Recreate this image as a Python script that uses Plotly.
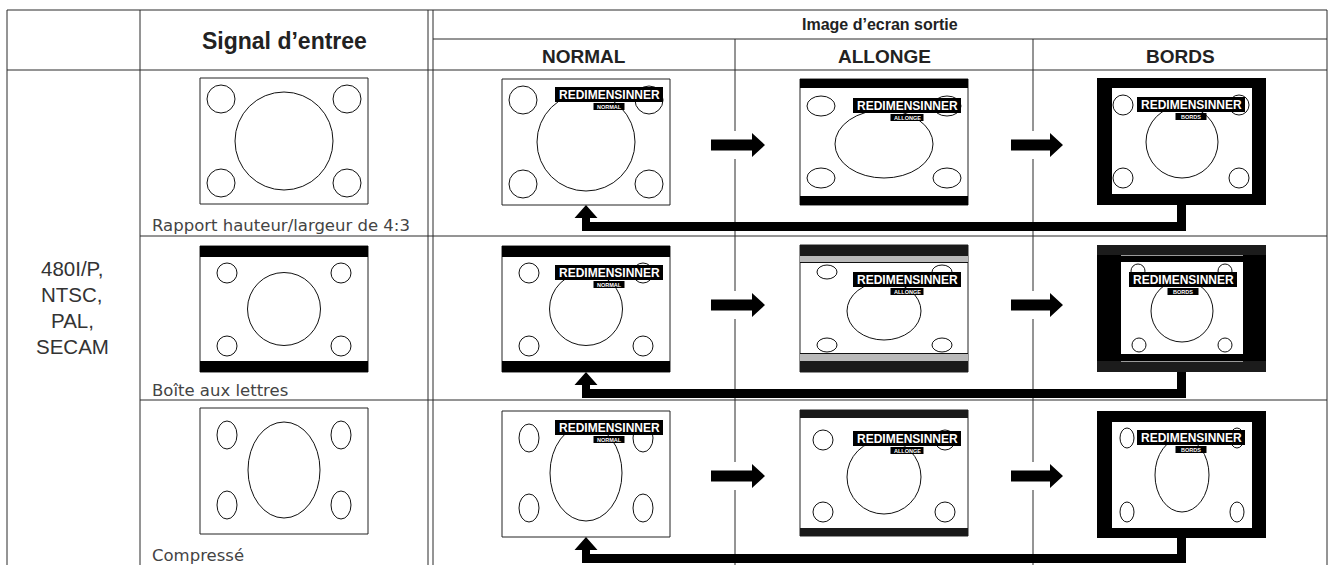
import plotly.graph_objects as go

# ---------------- text content ----------------
input_lines = ["480I/P,", "NTSC,", "PAL,", "SECAM"]
header_input = "Signal d’entree"
header_output = "Image d’ecran sortie"
modes = ["NORMAL", "ALLONGE", "BORDS"]
row_captions = ["Rapport hauteur/largeur de 4:3", "Boîte aux lettres", "Compressé"]
osd_title = "REDIMENSINNER"

W, H = 1334, 565
LINE = "#2a2a2a"
shapes, annots = [], []


def line(x0, y0, x1, y1, color=LINE, w=1):
    shapes.append(dict(type="line", x0=x0, y0=y0, x1=x1, y1=y1,
                       line=dict(color=color, width=w)))


def rect(x0, y0, x1, y1, fill, lc=None, lw=0):
    shapes.append(dict(type="rect", x0=x0, y0=y0, x1=x1, y1=y1, fillcolor=fill,
                       line=dict(color=lc or fill, width=lw)))


def ell(cx, cy, rx, ry):
    shapes.append(dict(type="circle", x0=cx - rx, y0=cy - ry, x1=cx + rx, y1=cy + ry,
                       line=dict(color="#111", width=1), fillcolor="rgba(0,0,0,0)"))


def poly(pts, fill="#000"):
    path = "M " + " L ".join(f"{x},{y}" for x, y in pts) + " Z"
    shapes.append(dict(type="path", path=path, fillcolor=fill, line=dict(width=0)))


def text(x, y, s, size, color="#222", bold=False, family="Liberation Sans, Arial",
         xanchor="center"):
    annots.append(dict(x=x, y=y, xref="x", yref="y", text=(f"<b>{s}</b>" if bold else s),
                       showarrow=False, xanchor=xanchor, yanchor="middle",
                       font=dict(size=size, color=color, family=family)))


# ---------------- table grid ----------------
L, R, TOP = 7, 1327, 10
line(L, TOP, R, TOP)
for x in (L, 140, 428, 433, R):
    line(x, TOP, x, H)
line(433, 39, R, 39)
line(L, 70, R, 70)
for y in (236, 400):
    line(140, y, R, y)
col_div = [735, 1033]
for x in col_div:
    line(x, 39, x, H)

# headers
text(284, 41, header_input, 23, bold=True)
text(880, 24, header_output, 16, bold=True)
for cx, m in zip([584, 884, 1180], modes):
    text(cx, 56, m, 19, bold=True)

for i, s in enumerate(input_lines):
    text(72, 268 + 26 * i, s, 20.5, color="#333")

for y, s in zip([225, 390, 555], row_captions):
    text(150, y, s, 16.5, color="#444", family="DejaVu Sans", xanchor="left")


# ---------------- screens ----------------
FW, FH = 168, 126


def circles(x, y, big, small, srx, sry):
    ell(x + big[0], y + big[1], big[2], big[3])
    for sx, sy in small:
        ell(x + sx, y + sy, srx, sry)


def content(kind, x, y):
    if kind == "full":
        circles(x, y, (84, 63, 49, 49), [(21, 21), (147, 21), (21, 105), (147, 105)], 14, 14)
    elif kind == "letter":
        circles(x, y, (84, 63, 36.5, 36.5), [(27, 27), (141, 27), (27, 100), (141, 100)], 10, 10)
    elif kind == "squeeze":
        circles(x, y, (84, 62, 36, 48), [(27, 27), (141, 27), (27, 97), (141, 97)], 10, 14)


def plain_frame(x, y, kind, bars=0):
    rect(x, y, x + FW, y + FH, "white", "#222", 1)
    content(kind, x, y)
    if bars:
        rect(x, y, x + FW, y + bars, "#000")
        rect(x, y + FH - bars, x + FW, y + FH, "#000")


def osd(x0, y0, mode):
    rect(x0, y0, x0 + 108, y0 + 15, "#000")
    text(x0 + 54, y0 + 8, osd_title, 12, color="white", bold=True)
    cx = x0 + 54
    w = 31 if mode != "ALLONGE" else 33
    rect(cx - w / 2, y0 + 16, cx + w / 2, y0 + 23, "#000")
    text(cx, y0 + 19.8, mode, 5.5, color="white", bold=True)


row_kinds = ["full", "letter", "squeeze"]

# input column
for top, kind in zip([78, 246, 408], row_kinds):
    plain_frame(200, top, kind, bars=11 if kind == "letter" else 0)

# NORMAL column
NX = 502
normal_tops = [79, 246, 411]
for top, kind, oy in zip(normal_tops, row_kinds, [8, 19, 9]):
    plain_frame(NX, top, kind, bars=11 if kind == "letter" else 0)
    osd(NX + 53, top + oy, modes[0])

# ALLONGE column
AX = 800
# row 1
y = 79
rect(AX, y, AX + FW, y + FH, "white", "#222", 1)
circles(AX, y, (84, 65, 49, 34), [(21, 27), (147, 27), (21, 99), (147, 99)], 14, 10)
rect(AX, y, AX + FW, y + 9, "#000")
rect(AX, y + FH - 9, AX + FW, y + FH, "#000")
osd(AX + 53, y + 19, modes[1])
# row 2
y = 245
rect(AX, y, AX + FW, y + 127, "white", "#222", 1)
circles(AX, y, (84, 66, 37, 29), [(27, 27), (142, 27), (27, 100), (142, 100)], 10, 7)
rect(AX, y, AX + FW, y + 11, "#1a1a1a")
rect(AX, y + 11, AX + FW, y + 17, "#b9b9b9")
line(AX, y + 17.5, AX + FW, y + 17.5, "#111")
rect(AX, y + 116, AX + FW, y + 127, "#1a1a1a")
rect(AX, y + 109, AX + FW, y + 116, "#b9b9b9")
line(AX, y + 108.5, AX + FW, y + 108.5, "#111")
osd(AX + 53, y + 27, modes[1])
# row 3
y = 410
rect(AX, y, AX + FW, y + FH, "white", "#222", 1)
circles(AX, y, (84, 67, 37, 37), [(23, 30), (145, 30), (23, 102), (145, 102)], 10, 10)
rect(AX, y, AX + FW, y + 8, "#1a1a1a")
rect(AX, y + FH - 8, AX + FW, y + FH, "#1a1a1a")
osd(AX + 53, y + 21, modes[1])

# BORDS column
BX, BW = 1097, 169
# row 1
y = 78
rect(BX, y, BX + BW, y + 127, "#000")
rect(BX + 15, y + 10, BX + 155, y + 116, "white")
circles(BX, y, (85, 64, 36, 36), [(26, 27), (142, 27), (26, 100), (142, 100)], 10, 10)
osd(BX + 40, y + 19, modes[2])
# row 2
y = 245
rect(BX, y, BX + BW, y + 127, "#1c1c1c")
rect(BX + 24, y + 17, BX + 146, y + 109, "white")
circles(BX, y, (85, 66, 31, 31), [(41, 26), (128, 26), (42, 100), (128, 100)], 7, 7)
rect(BX + 24, y + 10, BX + 146, y + 17, "#000")
rect(BX + 24, y + 109, BX + 146, y + 116, "#000")
line(BX + 24, y + 10.5, BX + 146, y + 10.5, "#9a9a9a")
line(BX + 24, y + 116.5, BX + 146, y + 116.5, "#9a9a9a")
rect(BX, y + 10, BX + 24, y + 116, "#000")
rect(BX + 146, y + 10, BX + BW, y + 116, "#000")
osd(BX + 32, y + 27, modes[2])
# row 3
y = 411
rect(BX, y, BX + BW, y + 127, "#000")
rect(BX + 15, y + 11, BX + 155, y + 117, "white")
circles(BX, y, (85, 64, 27, 37), [(30, 27), (140, 27), (30, 101), (140, 101)], 7, 10)
osd(BX + 40, y + 19, modes[2])

# ---------------- arrows ----------------
arrow_rows = [145, 305, 476]
for cy in arrow_rows:
    for (xa, xb), xd in zip([(711, 765), (1011, 1063)], col_div):
        rect(xd - 4, cy - 14, xd + 4, cy + 14, "white")
        hx = xb - 13
        poly([(xa, cy - 5.5), (hx, cy - 5.5), (hx, cy - 12), (xb, cy),
              (hx, cy + 12), (hx, cy + 5.5), (xa, cy + 5.5)])

bords_bottoms = [205, 372, 538]
for fb, fbB in zip(normal_tops, bords_bottoms):
    fb = fb + FH
    bt = fb + 17
    poly([(586, fb), (597.5, fb + 13), (590, fb + 13), (590, bt), (1177, bt),
          (1177, fbB), (1186, fbB), (1186, bt + 9), (582, bt + 9), (582, fb + 13),
          (574.5, fb + 13)])

fig = go.Figure()
fig.update_layout(
    width=W, height=H, margin=dict(l=0, r=0, t=0, b=0),
    paper_bgcolor="white", plot_bgcolor="white",
    xaxis=dict(range=[0, W], visible=False, fixedrange=True),
    yaxis=dict(range=[H, 0], visible=False, fixedrange=True),
    shapes=shapes, annotations=annots, showlegend=False,
)
fig.write_html("out.html", config={"displayModeBar": False, "staticPlot": True},
               post_script="document.body.style.margin='0';document.body.style.padding='0';document.body.style.overflow='hidden';")
